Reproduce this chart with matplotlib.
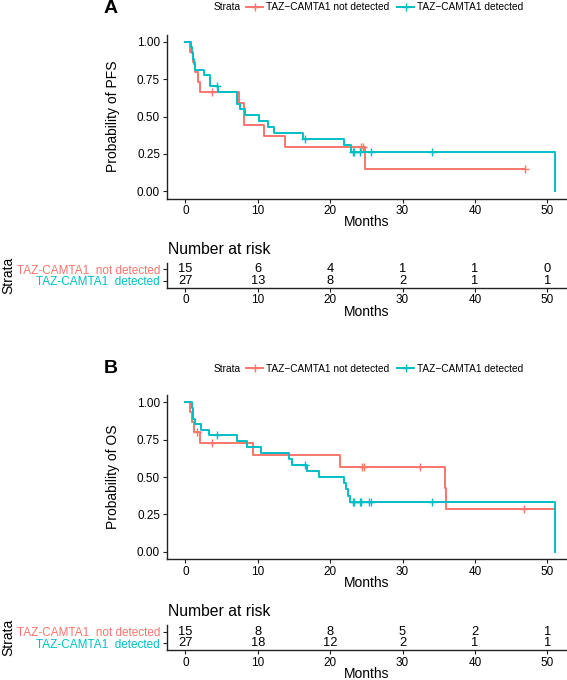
import numpy as np
import matplotlib
matplotlib.use('Agg')
import matplotlib.pyplot as plt
from matplotlib.lines import Line2D

plt.rcParams['font.family'] = ['Liberation Sans', 'DejaVu Sans']

RED = '#F8766D'
BLUE = '#00BFC4'

group_labels = ['TAZ-CAMTA1  not detected', 'TAZ-CAMTA1  detected']
legend_labels = ['TAZ\u2212CAMTA1 not detected', 'TAZ\u2212CAMTA1 detected']

# PFS, not detected (1 = event, 0 = censored)
pfs_not_time = [0.65, 1.0, 1.3, 1.7, 1.95, 3.6, 7.35, 8.15, 8.15, 10.8, 13.8, 24.3, 24.6, 24.85, 46.9]
pfs_not_event = [1, 1, 1, 1, 1, 0, 1, 1, 1, 1, 1, 0, 0, 1, 0]
# PFS, detected
pfs_det_time = [0.75, 0.9, 1.05, 1.2, 1.35, 2.5, 3.4, 3.4, 4.4, 4.5, 7.1, 7.1, 7.5, 8.2,
                10.2, 11.4, 12.2, 16.3, 16.5, 21.9, 22.9, 23.1, 23.3, 24.1, 25.6, 34.1, 51.0]
pfs_det_event = [1, 1, 1, 1, 1, 1, 1, 1, 0, 1, 1, 1, 1, 1,
                 1, 1, 1, 1, 0, 1, 1, 0, 0, 0, 0, 0, 1]

# OS, not detected
os_not_time = [0.65, 0.85, 1.15, 1.6, 2.0, 3.6, 9.3, 21.3, 24.4, 24.7, 32.4, 35.9, 36.0, 46.8, 51.0]
os_not_event = [1, 1, 1, 0, 1, 0, 1, 1, 0, 0, 0, 1, 1, 0, 0]
# OS, detected
os_det_time = [0.9, 1.0, 1.1, 1.25, 2.1, 3.3, 4.4, 7.1, 8.5, 10.4, 14.3, 14.7, 16.5, 16.8,
               18.4, 21.9, 22.2, 22.5, 22.8, 23.1, 23.3, 24.1, 24.3, 25.4, 25.6, 34.1, 51.0]
os_det_event = [1, 1, 1, 1, 1, 1, 0, 1, 1, 1, 1, 1, 0, 1,
                1, 1, 1, 1, 1, 0, 0, 0, 0, 0, 0, 0, 1]

risk_times = [0, 10, 20, 30, 40, 50]
pfs_risk_not = [15, 6, 4, 1, 1, 0]
pfs_risk_det = [27, 13, 8, 2, 1, 1]
os_risk_not = [15, 8, 8, 5, 2, 1]
os_risk_det = [27, 18, 12, 2, 1, 1]


def km(times, events):
    t = np.array(times)
    e = np.array(events)
    s = 1.0
    xs, ys, cx, cy = [0.0], [1.0], [], []
    for u in np.unique(t):
        n = (t >= u).sum()
        d = ((t == u) & (e == 1)).sum()
        if d:
            s *= 1 - d / n
        xs.append(u)
        ys.append(s)
        if ((t == u) & (e == 0)).any():
            cx.append(u)
            cy.append(s)
    return xs, ys, np.array(cx), np.array(cy)


W, H = 567, 680
fig = plt.figure(figsize=(W / 100, H / 100), dpi=100)


def px_axes(left, top, right, bottom):
    return fig.add_axes([left / W, 1 - bottom / H, (right - left) / W, (bottom - top) / H])


def fx(x):
    return x / W


def fy(y):
    return 1 - y / H


def style(ax):
    for side in ['top', 'right']:
        ax.spines[side].set_visible(False)
    for side in ['left', 'bottom']:
        ax.spines[side].set_linewidth(1.0)
        ax.spines[side].set_color('#222222')
    ax.tick_params(length=3, width=0.8, color='#222222', labelsize=8.5, pad=2)
    ax.set_xlim(-2.55, 53.55)
    ax.set_xticks(risk_times)


def main_panel(top, bottom, letter, ylabel, data, legend_y):
    ax = px_axes(167, top, 573, bottom)
    style(ax)
    for (t, e), col in zip(data, [RED, BLUE]):
        xs, ys, cx, cy = km(t, e)
        ax.step(xs, ys, where='post', color=col, lw=1.4, clip_on=False)
        keep = cx < 50.5
        ax.plot(cx[keep], cy[keep], ls='none', marker='+', ms=6, mew=1.0, color=col, clip_on=False)
    ax.set_ylim(-0.05, 1.05)
    ax.set_yticks([0, 0.25, 0.5, 0.75, 1.0])
    ax.set_yticklabels(['0.00', '0.25', '0.50', '0.75', '1.00'])
    fig.text(fx(112.7), (ax.get_position().y0 + ax.get_position().y1) / 2, ylabel,
             rotation=90, ha='center', va='center', fontsize=10)
    fig.text(fx(367), fy(bottom + 24), 'Months', ha='center', va='center', fontsize=10)
    fig.text(fx(104), fy(top - 26), letter, ha='left', va='center',
             fontsize=14, fontweight='bold')
    # legend
    fig.text(fx(214), fy(legend_y), 'Strata', ha='left', va='center', fontsize=7.3)
    handles = [Line2D([], [], color=c, lw=1.4, marker='+', ms=6, mew=1.0) for c in [RED, BLUE]]
    fig.legend(handles, legend_labels, loc='center left', bbox_to_anchor=(fx(246), fy(legend_y)),
               ncol=2, frameon=False, fontsize=7.3, handlelength=1.7, handletextpad=0.25,
               columnspacing=0.8, borderpad=0, borderaxespad=0, numpoints=1)
    return ax


def risk_panel(top, bottom, not_vals, det_vals):
    ax = px_axes(167, top, 573, bottom)
    style(ax)
    ax.set_ylim(0.4, 2.6)
    ax.set_yticks([2, 1])
    ax.set_yticklabels(group_labels, fontsize=8.5)
    for lab, col in zip(ax.get_yticklabels(), [RED, BLUE]):
        lab.set_color(col)
    for x, a, b in zip(risk_times, not_vals, det_vals):
        ax.text(x, 2, str(a), ha='center', va='center', fontsize=9.3)
        ax.text(x, 1, str(b), ha='center', va='center', fontsize=9.3)
    fig.text(fx(167.5), fy(bottom - 38.3), 'Number at risk', ha='left', va='center', fontsize=11.3)
    fig.text(fx(367), fy(bottom + 28.5), 'Months', ha='center', va='baseline', fontsize=10)
    fig.text(fx(8), fy((top + bottom) / 2), 'Strata', rotation=90, ha='center', va='center',
             fontsize=10)
    return ax


main_panel(34.5, 198.5, 'A', 'Probability of PFS',
           [(pfs_not_time, pfs_not_event), (pfs_det_time, pfs_det_event)], 7.3)
risk_panel(262.5, 287.5, pfs_risk_not, pfs_risk_det)

main_panel(394.8, 559.2, 'B', 'Probability of OS',
           [(os_not_time, os_not_event), (os_det_time, os_det_event)], 369)
risk_panel(625, 650, os_risk_not, os_risk_det)

fig.savefig('out.png', dpi=100)
